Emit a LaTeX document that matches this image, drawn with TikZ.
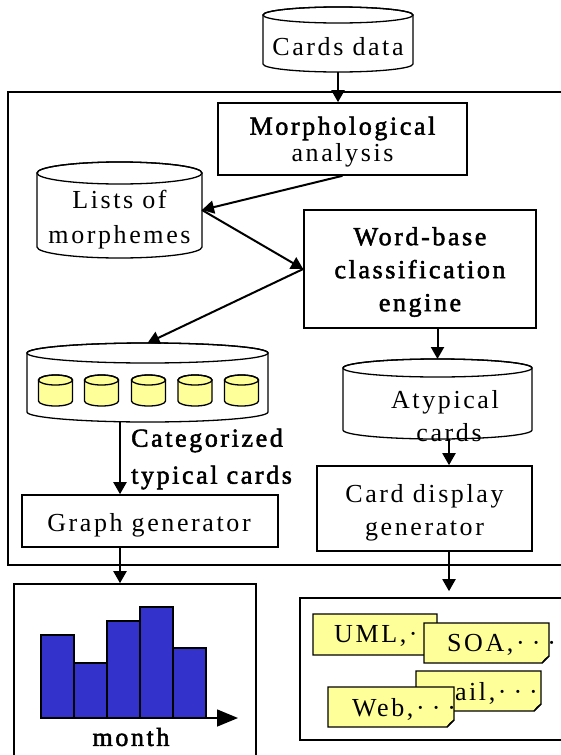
\documentclass[tikz,border=0pt]{standalone}
\usepackage{fontspec}
\setmainfont{Liberation Serif}[LetterSpace=10]
\newfontfamily\heavy{Liberation Serif}[LetterSpace=10, FakeBold=2]
\usetikzlibrary{arrows.meta,calc}

\definecolor{noteyellow}{HTML}{FFFF99}
\definecolor{flapyellow}{HTML}{CCCC77}
\definecolor{barblue}{HTML}{3333CC}

% cylinder outline round an invisible node: #1 node, #2 x radius, #3 y radius, #4 fill
\newcommand\drawcyl[4]{%
  \filldraw[cylline, fill=#4] ([yshift=-#3]#1.north west) -- ([yshift=#3]#1.south west)
    arc[start angle=180, end angle=360, x radius=#2, y radius=#3]
    -- ([yshift=-#3]#1.north east)
    arc[start angle=0, end angle=180, x radius=#2, y radius=#3] -- cycle;
  \draw[cylline] ([yshift=-#3]#1.north) ellipse[x radius=#2, y radius=#3];
}

% sticky note with a folded lower right corner round an invisible node
\newcommand\drawnote[1]{%
  \filldraw[noteline, fill=noteyellow] (#1.north west) -- (#1.north east)
    -- ([yshift=7pt]#1.south east) -- ([xshift=-7pt]#1.south east)
    -- (#1.south west) -- cycle;
  \filldraw[noteline, fill=flapyellow, line width=0.8pt] ([yshift=7pt]#1.south east)
    -- ([xshift=-7pt]#1.south east) -- ([xshift=-4pt,yshift=4pt]#1.south east) -- cycle;
}

\newcommand\tdots{·\kern7pt·\kern7pt·}

\begin{document}
\begin{tikzpicture}[x=1pt, y=-1pt,
  font=\fontsize{26}{30}\selectfont,
  box/.style={draw, line width=1.6pt, inner sep=0pt},
  geom/.style={inner sep=0pt, outer sep=0pt},
  txt/.style={inner sep=0pt, align=center},
  cylline/.style={line width=1.3pt},
  noteline/.style={line width=1.4pt},
  flow/.style={line width=2pt, -{Triangle[length=12pt, width=13pt]}},
  bar/.style={fill=barblue, draw=black, line width=1.5pt},
]
\useasboundingbox (0,0) rectangle (561,755);
\fill[white] (0,0) rectangle (561,755);
\clip (0,0) rectangle (561,755);

% processing frame
\draw[line width=1.8pt] (8,92) rectangle (590,565);

% source data
\node[geom, minimum width=150pt, minimum height=65pt] (cards) at (338,39.5) {};
\drawcyl{cards}{75pt}{8pt}{white}
\node[txt] (cardsT) at (338,47) {Cards data};

% processing steps
\node[box, minimum width=249pt, minimum height=72pt] (morph) at (342.5,139) {};
\node[txt, font=\fontsize{26}{27}\selectfont] (morphT) at (342.5,142) {{\heavy Morphological}\\analysis};

\node[geom, minimum width=165pt, minimum height=96pt] (lists) at (119.5,210) {};
\drawcyl{lists}{82.5pt}{11pt}{white}
\node[txt, font=\fontsize{26}{35}\selectfont] (listsT) at (119.5,220) {Lists of\\morphemes};

\node[box, minimum width=232pt, minimum height=118pt] (word) at (420,269) {};
\node[txt, font=\heavy\fontsize{26}{33}\selectfont] (wordT) at (420,272)
  {Word-base\\classification\\engine};

% categorized store with its category sub-stores
\node[geom, minimum width=241pt, minimum height=79pt] (categ) at (147.5,382.5) {};
\drawcyl{categ}{120.5pt}{10pt}{white}
\foreach \i/\cx in {1/55.5, 2/101.5, 3/148.5, 4/195, 5/241.5} {
  \node[geom, minimum width=34pt, minimum height=31pt] (sub\i) at (\cx,390.5) {};
  \drawcyl{sub\i}{17pt}{5pt}{noteyellow}
}
\node[txt, anchor=west, align=left, font=\heavy\fontsize{26}{37}\selectfont]
  (categT) at (131,459) {Categorized\\typical cards};

\node[geom, minimum width=189pt, minimum height=80pt] (atyp) at (437.5,399) {};
\drawcyl{atyp}{94.5pt}{9pt}{white}
\node[txt, font=\fontsize{26}{33}\selectfont] (atypT) at (445,416) {Atypical\\\hspace*{8pt}cards};

\node[box, minimum width=256pt, minimum height=52pt] (graph) at (150,521) {};
\node[txt] (graphT) at (149,525) {Graph generator};
\node[box, minimum width=215pt, minimum height=85pt] (cardgen) at (424.5,508.5) {};
\node[txt, font=\fontsize{26}{33}\selectfont] (cardgenT) at (424.5,513) {Card display\\generator};

% outputs
\node[box, minimum width=242pt, minimum height=220pt] (chart) at (135,694) {};
\node[box, minimum width=320pt, minimum height=142pt] (cardsout) at (460,669) {};

% connectors
\draw[flow] (cards.south) -- (cards.south |- morph.north);
\draw[flow] (morph.south) -- (lists.east);
\draw[flow] (lists.east) -- (word.west);
\draw[flow] (word.west) -- (categ.north);
\draw[flow] (atyp.north |- word.south) -- (atyp.north);
\draw[flow] ([xshift=11.5pt]atyp.south) -- ([xshift=11.5pt]atyp.south |- cardgen.north);
\draw[flow] ([xshift=-27.5pt]categ.south) -- ([xshift=-27.5pt]categ.south |- graph.north);
\draw[flow] ([xshift=-30pt]graph.south) -- ([xshift=-30pt]graph.south |- chart.north);
\draw[flow, shorten >=6pt] ([xshift=24.5pt]cardgen.south) -- ([xshift=24.5pt]cardgen.south |- cardsout.north);

% monthly histogram
\filldraw[bar] (41,718) rectangle (74,635);
\filldraw[bar] (74,718) rectangle (107,663);
\filldraw[bar] (107,718) rectangle (140,621);
\filldraw[bar] (140,718) rectangle (173,607);
\filldraw[bar] (173,718) rectangle (206,648);
\draw[line width=1.5pt, -{Triangle[length=21pt, width=17pt]}] (206,718) -- (238,718);
\node[txt, font=\heavy\fontsize{26}{30}\selectfont] (monthT) at (131,737) {month};

% displayed cards
\node[geom, minimum width=124pt, minimum height=41pt] (uml) at (375,634.5) {};
\drawnote{uml}
\node[txt, anchor=west] (umlT) at (334,636) {UML,\tdots};
\node[geom, minimum width=125pt, minimum height=40pt] (soa) at (486.5,643) {};
\drawnote{soa}
\node[txt, anchor=west] (soaT) at (447,645) {SOA,\tdots};
\node[geom, minimum width=125pt, minimum height=40pt] (mail) at (478.5,691) {};
\drawnote{mail}
\node[txt, anchor=west] (mailT) at (432,693) {mail,\tdots};
\node[geom, minimum width=126pt, minimum height=40pt] (web) at (391,707) {};
\drawnote{web}
\node[txt, anchor=west] (webT) at (352,709) {Web,\tdots};
\end{tikzpicture}
\end{document}
